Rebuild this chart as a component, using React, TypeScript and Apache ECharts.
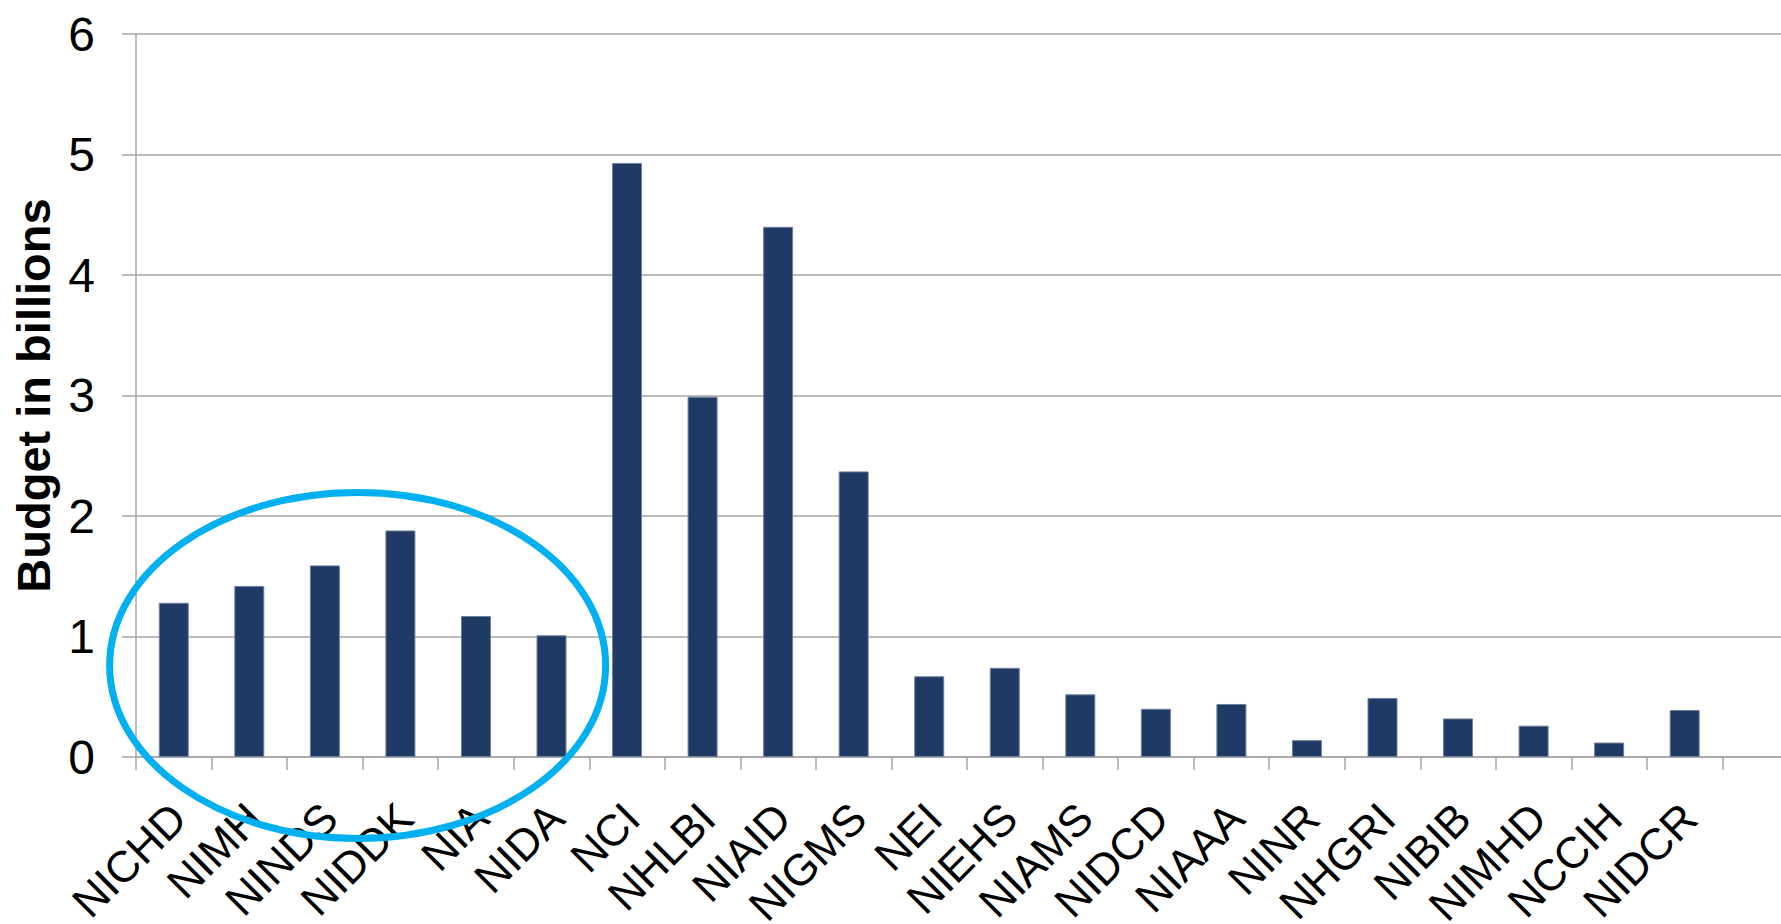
import React, { useEffect, useRef } from "react";
import * as echarts from "echarts";

const categories = [
  "NICHD", "NIMH", "NINDS", "NIDDK", "NIA", "NIDA", "NCI", "NHLBI", "NIAID", "NIGMS",
  "NEI", "NIEHS", "NIAMS", "NIDCD", "NIAAA", "NINR", "NHGRI", "NIBIB", "NIMHD", "NCCIH", "NIDCR", "",
];
const budgets: (number | null)[] = [
  1.28, 1.42, 1.59, 1.88, 1.17, 1.01, 4.93, 2.99, 4.4, 2.37,
  0.67, 0.74, 0.52, 0.4, 0.44, 0.14, 0.49, 0.32, 0.26, 0.12, 0.39, null,
];
const yTicks = { min: 0, max: 6, interval: 1 };
const yTitle = "Budget in billions";
const FONT = "'Liberation Sans', Arial, Helvetica, sans-serif";

export default function App() {
  const ref = useRef<HTMLDivElement>(null);
  useEffect(() => {
    if (!ref.current) return;
    const chart = echarts.init(ref.current, undefined, { renderer: "svg" });
    const gray = "#A6A6A6";
    chart.setOption({
      animation: false,
      backgroundColor: "#ffffff",
      grid: {
        left: 136,
        top: 34,
        width: 1662,
        height: 723,
        containLabel: false,
        outerBoundsMode: "none",
      },
      xAxis: {
        type: "category",
        data: categories,
        boundaryGap: true,
        axisLine: { show: true, lineStyle: { color: gray, width: 1.5 } },
        axisTick: { show: true, length: 13, interval: 0, lineStyle: { color: gray, width: 1.5 } },
        axisLabel: {
          interval: 0,
          rotate: 45,
          margin: 49,
          verticalAlign: "top",
          lineHeight: 13,
          color: "#000000",
          fontSize: 44,
          fontFamily: FONT,
        },
        splitLine: { show: false },
      },
      yAxis: {
        type: "value",
        min: yTicks.min,
        max: yTicks.max,
        interval: yTicks.interval,
        name: yTitle,
        nameLocation: "middle",
        nameRotate: 90,
        nameGap: 72,
        nameTextStyle: { color: "#000000", fontSize: 47, fontWeight: "bold", fontFamily: FONT },
        axisLine: { show: true, lineStyle: { color: gray, width: 1.5 } },
        axisTick: { show: true, length: 14, lineStyle: { color: gray, width: 1.5 } },
        axisLabel: { margin: 41, color: "#000000", fontSize: 48, fontFamily: FONT },
        splitLine: { show: true, lineStyle: { color: gray, width: 1.5 } },
      },
      series: [
        {
          type: "bar",
          data: budgets,
          barWidth: 30,
          itemStyle: { color: "#1F3A64", borderColor: "#6F819D", borderWidth: 1 },
        },
      ],
    });
    // annotation ellipse around the first six institutes
    const p0 = chart.convertToPixel({ xAxisIndex: 0, yAxisIndex: 0 }, [0, 0.76]) as number[];
    const p5 = chart.convertToPixel({ xAxisIndex: 0, yAxisIndex: 0 }, [5, 0.76]) as number[];
    const cx = (p0[0] + p5[0]) / 2 - 5;
    const cy = p0[1];
    chart.setOption({
      graphic: [
        {
          type: "ellipse",
          z: 100,
          shape: { cx, cy, rx: 248, ry: 173 },
          style: { fill: "none", stroke: "#00B0F0", lineWidth: 7 },
        },
      ],
    });
    return () => chart.dispose();
  }, []);
  return (
    <div
      ref={ref}
      style={{ position: "absolute", left: 0, top: 0, width: 1781, height: 924 }}
    />
  );
}
